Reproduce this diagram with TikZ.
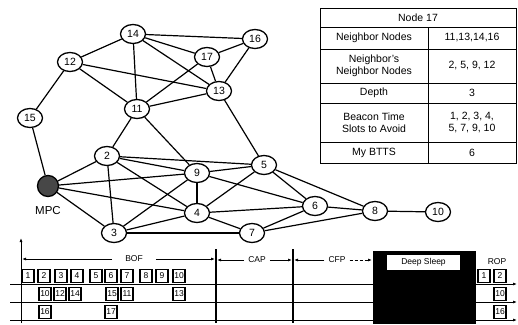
\documentclass[tikz,border=0pt]{standalone}
\usepackage{fontspec}
\setmainfont{Liberation Sans}
\usetikzlibrary{shapes.geometric,arrows.meta}
\begin{document}
\begin{tikzpicture}[x=1pt,y=-1pt,
  gn/.style={ellipse,draw,line width=1.3pt,fill=white,minimum width=25pt,minimum height=19pt,inner sep=0pt,font=\fontsize{10.5}{10.5}\selectfont},
  mpc/.style={circle,draw,line width=1.3pt,fill=black!72,minimum size=21pt,inner sep=0pt},
  edge/.style={line width=1.2pt},
  cell/.style={align=center,font=\fontsize{10.5}{12.5}\selectfont,inner sep=0pt},
  slot/.style={draw,line width=1.2pt,fill=white,minimum width=12pt,minimum height=13pt,inner sep=1pt,font=\fontsize{8.5}{8.5}\selectfont},
  lab/.style={font=\fontsize{8.5}{8.5}\selectfont,inner sep=1pt},
  arr/.style={line width=1pt,-{Latex[length=4pt,width=3pt]}}
]
\useasboundingbox (0,0) rectangle (518,324);
% ---- graph nodes
\node[gn] (n14) at (133,34) {14};
\node[gn] (n16) at (255,39) {16};
\node[gn] (n17) at (207,57) {17};
\node[gn] (n12) at (70,62) {12};
\node[gn] (n13) at (219,91) {13};
\node[gn] (n11) at (137,109) {11};
\node[gn] (n15) at (30,118) {15};
\node[gn] (n2) at (107,156) {2};
\node[gn] (n9) at (197,173) {9};
\node[gn] (n5) at (264,165) {5};
\node[gn] (n6) at (315,206) {6};
\node[gn] (n8) at (375,211) {8};
\node[gn] (n10) at (438,212) {10};
\node[gn] (n4) at (197,213) {4};
\node[gn] (n7) at (252,233) {7};
\node[gn] (n3) at (114,233) {3};
\node[mpc] (mpc) at (48,186) {};
\node[font=\fontsize{11.5}{11.5}\selectfont] (mpcl) at (48,211) {MPC};
% ---- edges
\foreach \a/\b in {n14/n12,n14/n16,n14/n17,n14/n13,n14/n11,n12/n13,n12/n11,n12/n15,
  n17/n16,n17/n13,n17/n11,n16/n13,n11/n13,n11/n2,n11/n9,n13/n5,n15/mpc,n2/mpc,
  n2/n5,n2/n9,n2/n4,n2/n3,mpc/n9,mpc/n4,mpc/n3,n3/n9,n3/n4,n3/n7,n9/n4,n9/n5,
  n9/n6,n4/n5,n4/n6,n4/n7,n5/n6,n5/n8,n6/n8,n7/n6,n7/n8,n8/n10}
  {\draw[edge] (\a) -- (\b);}
% ---- table
\draw[line width=0.9pt] (320,8) rectangle (516,163);
\foreach \y in {27,49,83,103,142} {\draw[line width=0.9pt] (320,\y) -- (516,\y);}
\draw[line width=0.9pt] (428,27) -- (428,163);
\node[cell] (t0) at (418,17.5) {Node 17};
\node[cell] (t1a) at (374,38) {Neighbor Nodes};
\node[cell] (t1b) at (472,38) {11,13,14,16};
\node[cell] (t2a) at (374,66) {Neighbor's\\Neighbor Nodes};
\node[cell] (t2b) at (472,66) {2, 5, 9, 12};
\node[cell] (t3a) at (374,93) {Depth};
\node[cell] (t3b) at (472,93) {3};
\node[cell] (t4a) at (374,122.5) {Beacon Time\\Slots to Avoid};
\node[cell] (t4b) at (472,122.5) {1, 2, 3, 4,\\5, 7, 9, 10};
\node[cell] (t5a) at (374,152.5) {My BTTS};
\node[cell] (t5b) at (472,152.5) {6};
% ---- timeline
\coordinate (axb) at (21,323);
\coordinate (axt) at (21,238);
\draw[arr] (axb) -- (axt);
\foreach \y/\n in {284/a,302/b,320/c} {
  \coordinate (l\n) at (10,\y); \coordinate (r\n) at (517,\y);
  \draw[arr] (l\n) -- (r\n);}
\coordinate (v1t) at (216,249); \coordinate (v1b) at (216,323);
\coordinate (v2t) at (293,249); \coordinate (v2b) at (293,323);
\draw[line width=1.3pt] (v1t) -- (v1b);
\draw[line width=1.3pt] (v2t) -- (v2b);
% black deep sleep block
\fill[black] (373,251) rectangle (476,324);
\node[fill=white,minimum width=73pt,minimum height=15pt,inner sep=0pt,font=\fontsize{8.5}{8.5}\selectfont] (ds) at (423.5,262.5) {Deep Sleep};
% labels with arrows
\node[lab] (bof) at (134,259) {BOF};
\node[lab] (cap) at (257,260) {CAP};
\node[lab] (cfp) at (337,260) {CFP};
\node[lab] (rop) at (497,262) {ROP};
\coordinate (bofl) at (22,259); \coordinate (bofr) at (215,259);
\coordinate (capl) at (217,260); \coordinate (capr) at (292,260);
\coordinate (cfpl) at (294,260); \coordinate (cfpr) at (372,260);
\draw[arr] ([xshift=-12pt]bof.west) -- (bofl);
\draw[arr] ([xshift=12pt]bof.east) -- (bofr);
\draw[arr] ([xshift=-3pt]cap.west) -- (capl);
\draw[arr] ([xshift=3pt]cap.east) -- (capr);
\draw[arr] ([xshift=-3pt]cfp.west) -- (cfpl);
\draw[arr,densely dashed] ([xshift=3pt]cfp.east) -- (cfpr);
% slots row 1
\foreach \x/\t in {28/1,44/2,61/3,77/4,96/5,111/6,127/7,146/8,162/9,179/10}
  {\node[slot] (sa\t) at (\x,276) {\t};}
% slots row 2
\foreach \x/\t in {45/10,60/12,75/14,112/15,127/11,179/13}
  {\node[slot] (sb\t) at (\x,294) {\t};}
% slots row 3
\foreach \x/\t in {45/16,111/17}
  {\node[slot] (sc\t) at (\x,312) {\t};}
% ROP slots
\node[slot] (ra1) at (484,276) {1};
\node[slot] (ra2) at (500,276) {2};
\node[slot] (rb10) at (500,294) {10};
\node[slot] (rc16) at (500,312) {16};
\end{tikzpicture}
\end{document}
